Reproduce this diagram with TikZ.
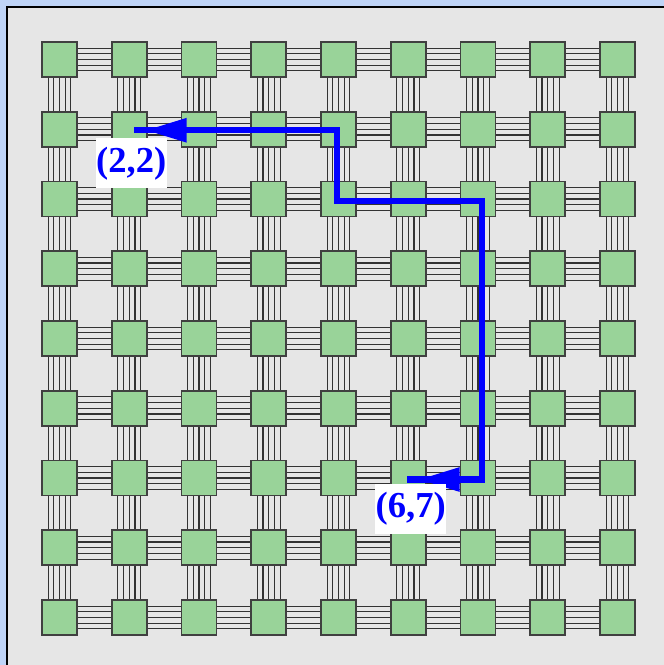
\documentclass[tikz,border=0pt]{standalone}
\usepackage{fontspec}
\setmainfont{Liberation Serif}
\usetikzlibrary{arrows.meta, positioning, calc}
\definecolor{pageBlue}{HTML}{BFD4F7}
\definecolor{panelFill}{HTML}{E6E6E6}
\definecolor{tileFill}{HTML}{99D399}
\definecolor{tileLine}{HTML}{404040}
\definecolor{wireLine}{HTML}{333333}
\definecolor{routeBlue}{HTML}{0000FF}

\begin{document}
\begin{tikzpicture}[
  x=0.025cm, y=-0.025cm,
  tile/.style={draw=tileLine, fill=tileFill, line width=1.3pt,
    minimum size=0.875cm, inner sep=0pt},
  wire/.style={wireLine, line width=0.8pt},
  route/.style={routeBlue, line width=4.4pt, line join=miter},
  routetip/.style={routeBlue, line width=0pt,
    -{Triangle[length=1.0cm, width=0.62cm]}},
  tag/.style={fill=white, text=routeBlue, font=\fontsize{26}{30}\selectfont\bfseries,
    inner xsep=0.5pt, inner ysep=0pt, minimum height=1.25cm}
]

% =========================================================
% PAGE AND PANEL
% =========================================================

\clip (0,0) rectangle (664,665);
\fill[pageBlue] (0,0) rectangle (664,665);
\draw[fill=panelFill, line width=1.4pt] (7,7) rectangle (680,680);

% =========================================================
% TILES
% =========================================================

\foreach \i in {1,...,9}{
  \foreach \j in {1,...,9}{
    \node[tile] (n-\i-\j) at ({59.5+69.75*(\i-1)},{59.5+69.75*(\j-1)}) {};
  }
}

% =========================================================
% WIRES
% =========================================================

\foreach \i [evaluate=\i as \k using int(\i+1)] in {1,...,8}{
  \foreach \j in {1,...,9}{
    \foreach \o in {-11.4,-5.7,0,5.7,11.4}{
      % horizontal bundle
      \draw[wire] ($(n-\i-\j.east)+(0,\o)$) -- ($(n-\k-\j.west)+(0,\o)$);
      % vertical bundle
      \draw[wire] ($(n-\j-\i.south)+(\o,0)$) -- ($(n-\j-\k.north)+(\o,0)$);
    }
  }
}

% =========================================================
% ROUTE
% =========================================================

\coordinate (r0) at ($(n-6-7.center)+(-1,1.5)$);
\coordinate (r1) at ($(n-7-7.center)+(4,1.5)$);
\coordinate (r2) at ($(n-7-3.center)+(4,2)$);
\coordinate (r3) at ($(n-5-3.center)+(-1.5,2)$);
\coordinate (r4) at ($(n-5-2.center)+(-1.5,1)$);
\coordinate (r5) at ($(n-2-2.center)+(5,1)$);
\draw[route] (r0) -- (r1) -- (r2) -- (r3) -- (r4) -- (r5);

\coordinate (tipA) at ($(n-2-2.east)+(-1,1)$);
\coordinate (tipB) at ($(n-6-7.east)+(-7,1.5)$);
\draw[routetip] ($(tipA)+(39,0)$) -- (tipA);
\draw[routetip] ($(tipB)+(40,0)$) -- (tipB);

% labels
\node[tag] (lab-a) at ($(n-2-2.center)+(2,34)$) {(2,2)};
\node[tag] (lab-b) at ($(n-6-7.center)+(2.5,31)$) {(6,7)};

\end{tikzpicture}
\end{document}
